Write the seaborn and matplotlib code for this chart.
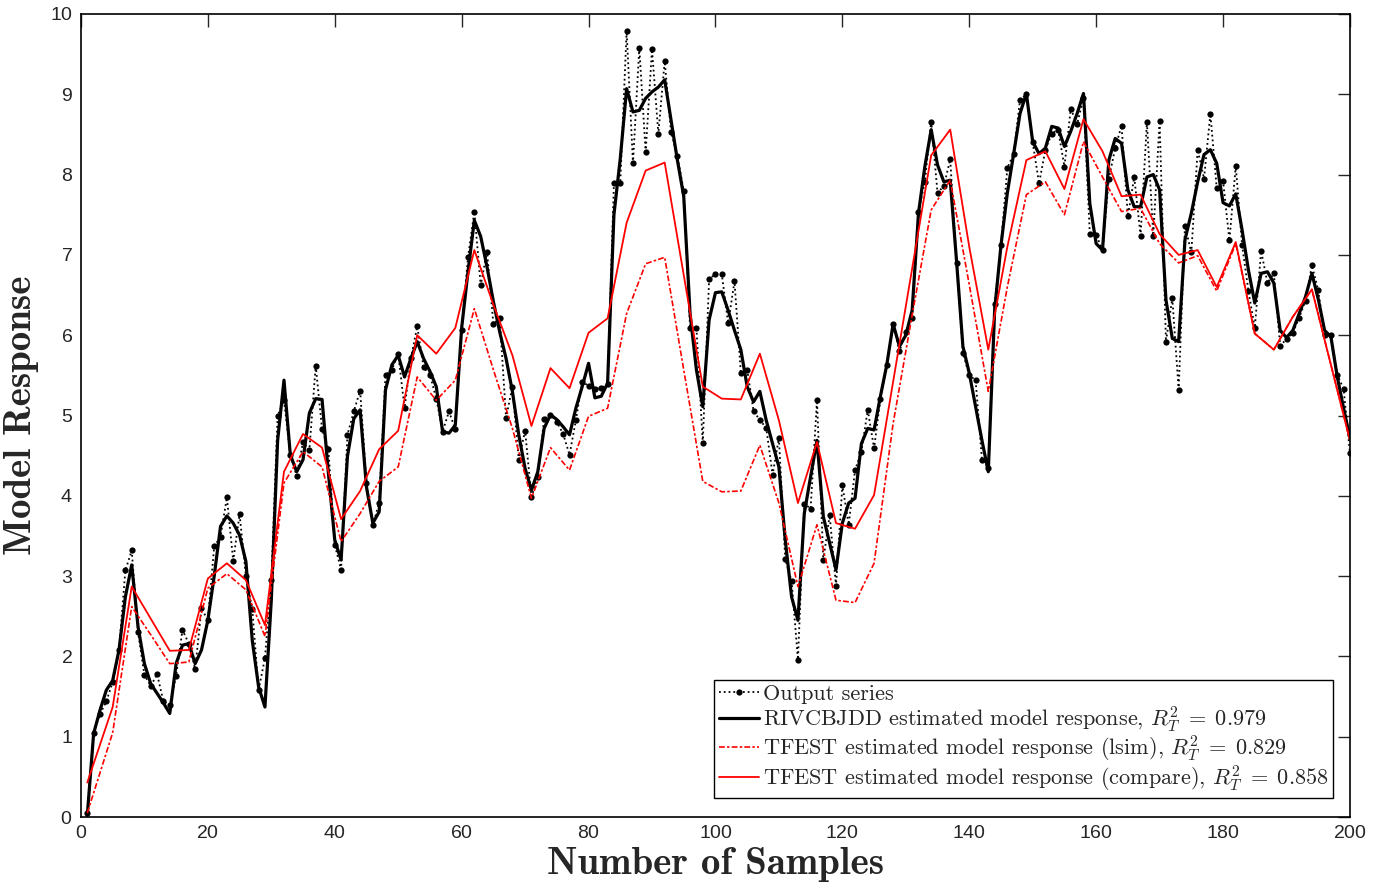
import matplotlib
matplotlib.use("Agg")
import matplotlib.pyplot as plt
import numpy as np
import pandas as pd
import seaborn as sns

# samples
samples = np.arange(1, 201)

# measured output series
output_series = [
    0.05, 1.05, 1.28, 1.44, 1.68, 2.08, 3.07, 3.32, 2.30, 1.77,
    1.63, 1.78, 1.44, 1.39, 1.76, 2.33, 2.16, 1.84, 2.60, 2.45,
    3.37, 3.49, 3.98, 3.19, 3.77, 3.00, 2.59, 1.58, 1.98, 2.95,
    5.00, 5.19, 4.51, 4.25, 4.67, 4.57, 5.62, 4.83, 4.58, 3.39,
    3.08, 4.76, 5.05, 5.31, 4.16, 3.64, 3.91, 5.50, 5.57, 5.77,
    5.09, 5.71, 6.11, 5.60, 5.51, 5.21, 4.80, 5.05, 4.83, 6.07,
    6.97, 7.54, 6.62, 7.04, 6.14, 6.21, 4.97, 5.36, 4.45, 4.81,
    3.99, 4.23, 4.96, 5.01, 4.92, 4.77, 4.51, 4.94, 5.42, 5.37,
    5.33, 5.34, 5.39, 7.90, 7.90, 9.79, 8.14, 9.58, 8.28, 9.56,
    8.51, 9.41, 8.53, 8.23, 7.80, 6.09, 6.09, 4.66, 6.70, 6.76,
    6.76, 6.15, 6.67, 5.53, 5.57, 5.06, 4.94, 4.85, 4.26, 4.72,
    3.21, 2.94, 1.96, 3.90, 3.84, 5.19, 3.20, 3.76, 2.88, 4.13,
    3.64, 4.32, 4.55, 5.07, 4.59, 5.21, 5.63, 6.14, 5.80, 6.04,
    6.22, 7.54, 7.91, 8.66, 7.77, 7.86, 8.19, 6.90, 5.78, 5.50,
    5.44, 4.45, 4.35, 6.39, 7.12, 8.08, 8.26, 8.93, 9.00, 8.40,
    7.89, 8.31, 8.51, 8.56, 8.10, 8.82, 8.63, 8.95, 7.26, 7.25,
    7.06, 7.95, 8.33, 8.61, 7.48, 7.97, 7.24, 8.65, 7.24, 8.67,
    5.92, 6.46, 5.32, 7.36, 7.03, 8.31, 7.95, 8.76, 7.83, 7.92,
    7.18, 8.11, 7.12, 6.55, 6.09, 7.05, 6.65, 6.77, 5.87, 5.95,
    6.03, 6.22, 6.43, 6.87, 6.56, 6.00, 6.00, 5.51, 5.33, 4.53,
]

# RIVCBJDD model response
rivcbjdd = [
    0.02, 1.04, 1.33, 1.58, 1.70, 2.08, 2.74, 3.14, 2.37, 1.91,
    1.66, 1.54, 1.42, 1.29, 1.91, 2.14, 2.16, 1.91, 2.08, 2.45,
    3.00, 3.62, 3.75, 3.66, 3.51, 3.18, 2.20, 1.62, 1.37, 2.70,
    4.69, 5.44, 4.51, 4.30, 4.45, 5.03, 5.21, 5.20, 4.28, 3.45,
    3.20, 4.49, 4.96, 5.07, 4.11, 3.66, 3.80, 5.32, 5.63, 5.75,
    5.48, 5.71, 5.92, 5.71, 5.55, 5.36, 4.80, 4.78, 4.88, 6.09,
    6.79, 7.43, 7.23, 6.85, 6.42, 6.04, 5.71, 5.30, 4.76, 4.34,
    4.07, 4.30, 4.84, 5.01, 4.95, 4.86, 4.76, 5.09, 5.36, 5.65,
    5.22, 5.24, 5.40, 7.50, 8.20, 9.07, 8.78, 8.80, 8.95, 9.03,
    9.09, 9.18, 8.68, 8.18, 7.73, 6.27, 5.57, 5.11, 6.19, 6.53,
    6.54, 6.31, 6.06, 5.82, 5.36, 5.17, 5.30, 4.94, 4.65, 4.36,
    3.45, 2.74, 2.45, 3.78, 4.24, 4.69, 3.74, 3.41, 3.08, 3.66,
    3.91, 3.97, 4.65, 4.84, 4.82, 5.24, 5.63, 6.14, 5.86, 6.00,
    6.31, 7.52, 8.10, 8.56, 8.12, 7.91, 7.93, 6.92, 5.86, 5.53,
    5.11, 4.69, 4.30, 6.31, 7.12, 7.77, 8.26, 8.76, 9.01, 8.41,
    8.26, 8.33, 8.60, 8.58, 8.35, 8.54, 8.76, 9.01, 7.64, 7.14,
    7.06, 8.18, 8.45, 8.39, 7.81, 7.60, 7.60, 7.97, 8.00, 7.81,
    6.44, 5.96, 5.92, 7.19, 7.52, 7.91, 8.25, 8.31, 8.14, 7.65,
    7.61, 7.76, 7.31, 6.81, 6.40, 6.77, 6.79, 6.65, 6.06, 5.97,
    6.06, 6.27, 6.48, 6.77, 6.45, 6.06, 5.98, 5.48, 5.09, 4.72,
]

# TFEST responses (plotted every 3rd sample)
tfest_samples = [1] + list(range(5, 201, 3))
tfest_lsim = [
    0.05, 1.05, 2.62, 2.27, 1.91, 1.93, 2.85, 3.03, 2.83, 2.25,
    4.16, 4.55, 4.36, 3.43, 3.78, 4.18, 4.36, 5.48, 5.19, 5.44,
    6.33, 5.57, 4.84, 3.97, 4.60, 4.32, 4.99, 5.09, 6.27, 6.89,
    6.97, 5.57, 4.18, 4.05, 4.06, 4.63, 3.91, 2.87, 3.64, 2.70,
    2.67, 3.16, 4.90, 6.25, 7.56, 7.93, 6.63, 5.30, 6.60, 7.75,
    7.91, 7.50, 8.41, 7.97, 7.54, 7.58, 7.14, 6.90, 6.99, 6.55,
    7.14, 6.02, 5.82, 6.23, 6.57, 5.63, 4.69,
]
tfest_compare = [
    0.43, 1.37, 2.87, 2.47, 2.07, 2.08, 2.97, 3.16, 2.95, 2.39,
    4.30, 4.77, 4.60, 3.71, 4.06, 4.58, 4.81, 6.00, 5.77, 6.09,
    7.06, 6.38, 5.75, 4.87, 5.59, 5.34, 6.03, 6.21, 7.40, 8.05,
    8.15, 6.75, 5.36, 5.21, 5.20, 5.77, 4.94, 3.91, 4.67, 3.66,
    3.59, 4.01, 5.42, 6.83, 8.24, 8.56, 7.10, 5.82, 7.10, 8.18,
    8.29, 7.82, 8.69, 8.29, 7.73, 7.75, 7.26, 7.00, 7.06, 6.60,
    7.16, 6.02, 5.82, 6.23, 6.57, 5.63, 4.69,
]

labels = [
    "Output series",
    r"RIVCBJDD estimated model response, $R_T^2\;=\;0.979$",
    r"TFEST estimated model response (lsim), $R_T^2\;=\;0.829$",
    r"TFEST estimated model response (compare), $R_T^2\;=\;0.858$",
]

sns.set_style("white")
plt.rcParams["mathtext.fontset"] = "cm"
plt.rcParams["axes.formatter.use_mathtext"] = True

df_main = pd.DataFrame({"n": samples, "out": output_series, "riv": rivcbjdd})
df_tf = pd.DataFrame({"n": tfest_samples, "lsim": tfest_lsim, "cmp": tfest_compare})

fig = plt.figure(figsize=(13.86, 8.85), dpi=100)
ax = fig.add_axes([0.0584, 0.0768, 0.9156, 0.9074])

sns.lineplot(data=df_main, x="n", y="out", ax=ax, color="black", linestyle=":",
             linewidth=1.3, marker="o", markersize=4.5, markeredgewidth=0,
             label=labels[0], sort=False, estimator=None)
sns.lineplot(data=df_main, x="n", y="riv", ax=ax, color="black", linewidth=2.3,
             label=labels[1], sort=False, estimator=None)
sns.lineplot(data=df_tf, x="n", y="lsim", ax=ax, color="red",
             dashes=False, linewidth=1.2, label=labels[2], sort=False, estimator=None)
ax.lines[-1].set_dashes((3.5, 1.3, 1.5, 1.3))
sns.lineplot(data=df_tf, x="n", y="cmp", ax=ax, color="red", linewidth=1.3,
             label=labels[3], sort=False, estimator=None)

ax.set_xlim(0, 200)
ax.set_ylim(0, 10)
ax.set_xticks(range(0, 201, 20))
ax.set_yticks(range(0, 11))
ax.tick_params(direction="in", length=9, width=1.0, top=True, right=True,
               labelsize=14, pad=6)
for t in ax.get_xticklabels() + ax.get_yticklabels():
    t.set_family("Liberation Sans")
for s in ax.spines.values():
    s.set_linewidth(1.2)
    s.set_color("black")

ax.set_xlabel("Number of Samples", fontsize=28, family="cmb10", labelpad=3)
ax.set_ylabel("Model Response", fontsize=28, family="cmb10", labelpad=8)

leg = ax.legend(loc="lower right", bbox_to_anchor=(0.9866, 0.0237), borderaxespad=0,
                fancybox=False, edgecolor="black", framealpha=1,
                prop={"family": "cmr10", "size": 16}, handlelength=1.8,
                handletextpad=0.2, labelspacing=0.0, borderpad=0.2)
leg.get_frame().set_linewidth(1.0)

fig.savefig("out.png", dpi=100)
